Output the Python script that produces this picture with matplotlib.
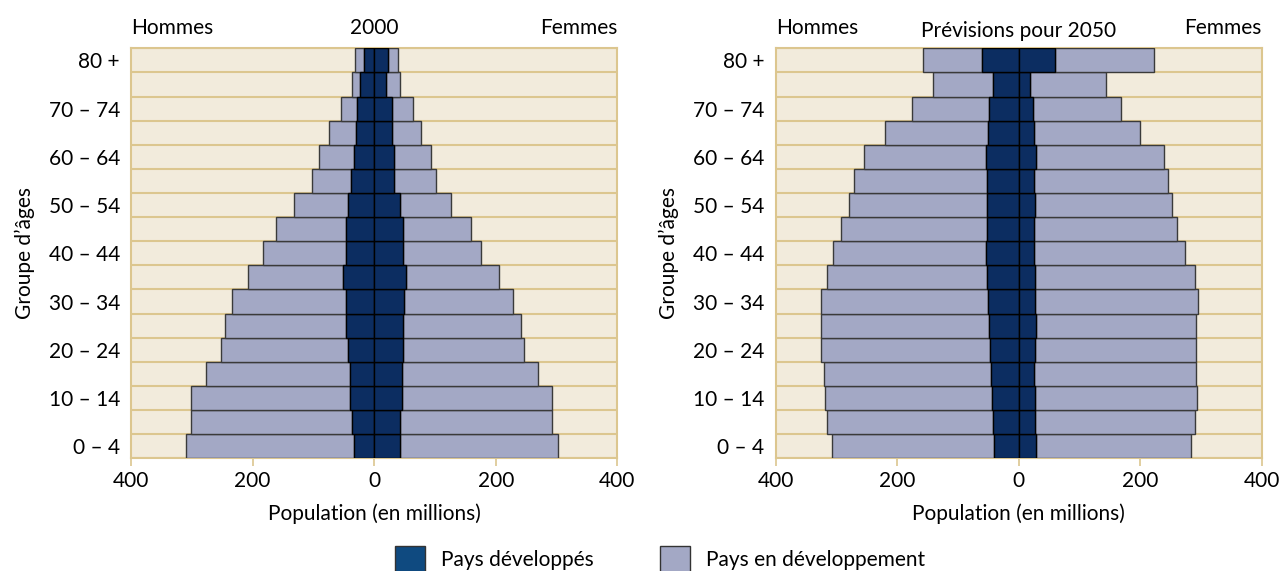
import matplotlib.pyplot as plt
from matplotlib.patches import Rectangle
import numpy as np

plt.rcParams['font.family'] = ['Lato', 'DejaVu Sans']

# age groups, bottom (0-4) to top (80+)
ages = ['0 – 4', '5 – 9', '10 – 14', '15 – 19', '20 – 24', '25 – 29', '30 – 34',
        '35 – 39', '40 – 44', '45 – 49', '50 – 54', '55 – 59', '60 – 64',
        '65 – 69', '70 – 74', '75 – 79', '80 +']

# 2000, millions
men_dev_2000 = [33, 37, 40, 39, 43, 46, 46, 52, 47, 46, 43, 38, 34, 30, 28, 23, 17]
men_ing_2000 = [276, 264, 261, 238, 209, 200, 188, 155, 136, 115, 89, 65, 57, 44, 26, 14, 15]
women_dev_2000 = [42, 43, 45, 46, 47, 47, 49, 52, 48, 48, 43, 33, 32, 30, 29, 19, 22]
women_ing_2000 = [260, 250, 248, 224, 200, 195, 180, 153, 127, 111, 84, 68, 62, 47, 35, 24, 18]

# 2050 projections, millions
men_dev_2050 = [40, 43, 44, 45, 47, 48, 51, 52, 53, 52, 52, 52, 54, 50, 48, 43, 60]
men_ing_2050 = [268, 273, 274, 275, 278, 277, 274, 263, 253, 241, 227, 219, 201, 170, 128, 98, 98]
women_dev_2050 = [28, 27, 27, 26, 27, 29, 27, 27, 26, 26, 27, 26, 28, 25, 23, 19, 60]
women_ing_2050 = [255, 263, 266, 266, 265, 263, 268, 263, 247, 234, 226, 220, 211, 174, 146, 124, 163]

legend_labels = ['Pays développés', 'Pays en développement']

DARK = '#0c2d61'
LIGHT = '#a3a8c5'
BG = '#f2ebdc'
TAN = '#dcc68f'
LEG_DARK = '#0f4a80'
FS = 15

fig = plt.figure(figsize=(12.81, 5.71), dpi=100)


def pyramid(ax, men_dev, men_ing, women_dev, women_ing, title, title_y):
    y = np.arange(len(ages))
    md = -np.array(men_dev)
    mi = -np.array(men_ing)
    wd = np.array(women_dev)
    wi = np.array(women_ing)

    ax.set_facecolor(BG)
    ax.barh(y, mi, left=md, height=1.0, color=LIGHT, edgecolor='#3a3a3a', lw=1, zorder=3)
    ax.barh(y, wi, left=wd, height=1.0, color=LIGHT, edgecolor='#3a3a3a', lw=1, zorder=3)
    ax.barh(y, md, height=1.0, color=DARK, edgecolor='black', lw=1, zorder=4)
    ax.barh(y, wd, height=1.0, color=DARK, edgecolor='black', lw=1, zorder=4)

    ax.set_xlim(-400, 400)
    ax.set_ylim(-0.5, len(ages) - 0.5)
    ax.set_xticks([-400, -200, 0, 200, 400])
    ax.set_xticklabels(['400', '200', '0', '200', '400'], fontsize=FS)
    ax.set_yticks(y[::2])
    ax.set_yticklabels(ages[::2], fontsize=FS)
    ax.set_yticks(np.arange(len(ages) + 1) - 0.5, minor=True)
    ax.grid(which='minor', axis='y', color=TAN, lw=1.5, zorder=1)
    ax.tick_params(axis='y', which='both', length=0, pad=8)
    ax.tick_params(axis='x', length=6, color=TAN, width=1.2, pad=3)
    for s in ax.spines.values():
        s.set_color(TAN)
        s.set_linewidth(1.5)

    ax.set_xlabel('Population (en millions)', fontsize=FS, labelpad=9)
    ax.set_ylabel('Groupe d’âges', fontsize=FS, labelpad=10)
    ax.text(0, 1.025, 'Hommes', transform=ax.transAxes, ha='left', va='bottom', fontsize=FS)
    ax.text(1, 1.025, 'Femmes', transform=ax.transAxes, ha='right', va='bottom', fontsize=FS)
    ax.text(0.5, title_y, title, transform=ax.transAxes, ha='center', va='bottom', fontsize=FS)


ax1 = fig.add_axes([0.1023, 0.1974, 0.3796, 0.718])
ax2 = fig.add_axes([0.6055, 0.1974, 0.3794, 0.718])
pyramid(ax1, men_dev_2000, men_ing_2000, women_dev_2000, women_ing_2000, '2000', 1.025)
pyramid(ax2, men_dev_2050, men_ing_2050, women_dev_2050, women_ing_2050, 'Prévisions pour 2050', 1.017)

# legend at the bottom, swatches run off the lower edge as in the source
W, H = 1281, 571
for x0, col, lab in [(395, LEG_DARK, legend_labels[0]), (660, LIGHT, legend_labels[1])]:
    fig.patches.append(Rectangle((x0 / W, -0.02), 30 / W, (H - 546) / H + 0.02,
                                 transform=fig.transFigure, facecolor=col,
                                 edgecolor='#333333', lw=1))
    fig.text((x0 + 46) / W, 1 - 560 / H, lab, ha='left', va='center', fontsize=FS)

fig.savefig('out.png', dpi=100)
